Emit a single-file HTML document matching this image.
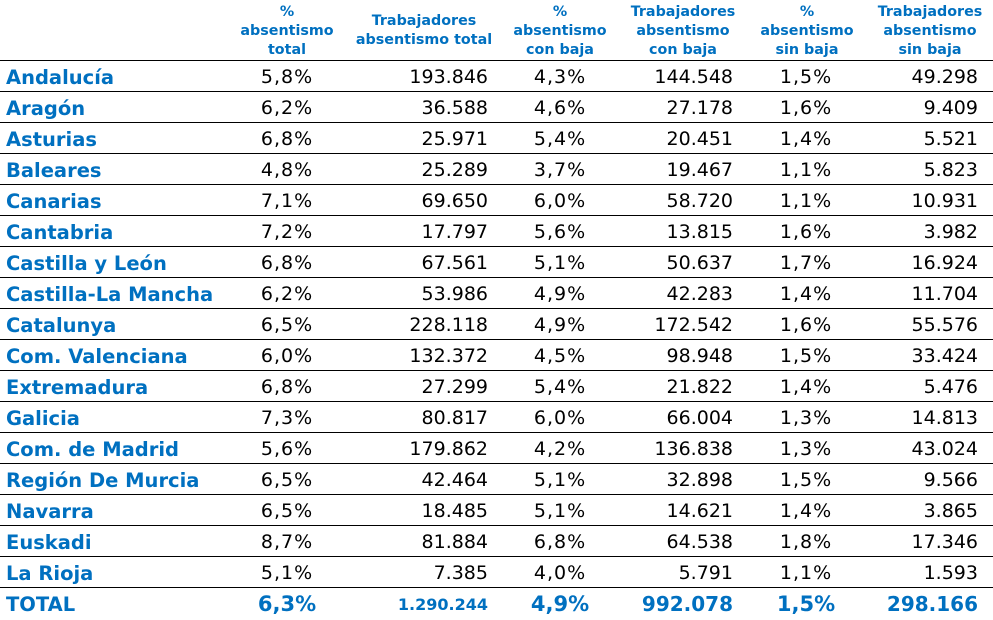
<!DOCTYPE html>
<html><head><meta charset="utf-8">
<style>
html,body{margin:0;padding:0;background:#fff;}
body{width:993px;height:620px;position:relative;overflow:hidden;font-family:"DejaVu Sans","Liberation Sans",sans-serif;color:#000;}
.h{position:absolute;top:0;height:62px;display:flex;align-items:center;justify-content:center;text-align:center;font-weight:bold;font-size:14.3px;line-height:19px;color:#0070C0;white-space:nowrap;}
.r{position:absolute;left:0;width:993px;height:31px;border-top:1px solid #000;}
.r span{position:absolute;top:1px;line-height:31px;font-size:19px;white-space:nowrap;}
.r .n{left:6px;font-weight:bold;color:#0070C0;font-size:19.5px;}
.r .c1{left:227px;width:120px;text-align:center;letter-spacing:1px;}
.r .c2{right:505px;text-align:right;}
.r .c3{left:500px;width:120px;text-align:center;letter-spacing:1px;}
.r .c4{right:260px;text-align:right;}
.r .c5{left:746px;width:120px;text-align:center;letter-spacing:1px;}
.r .c6{right:15px;text-align:right;}
.t span{color:#0070C0;font-weight:bold;}
.t .p{font-size:21px;letter-spacing:0;}
.t .v{font-size:20px;}
.t .s{font-size:16px;}
</style></head><body>
<div class="h" style="left:222px;width:130px;">%<br>absentismo<br>total</div>
<div class="h" style="left:352px;width:144px;">Trabajadores<br>absentismo total</div>
<div class="h" style="left:495px;width:130px;">%<br>absentismo<br>con baja</div>
<div class="h" style="left:618px;width:130px;">Trabajadores<br>absentismo<br>con baja</div>
<div class="h" style="left:742px;width:130px;">%<br>absentismo<br>sin baja</div>
<div class="h" style="left:865px;width:130px;">Trabajadores<br>absentismo<br>sin baja</div>

<div class="r" style="top:60px"><span class="n">Andalucía</span><span class="c1">5,8%</span><span class="c2">193.846</span><span class="c3">4,3%</span><span class="c4">144.548</span><span class="c5">1,5%</span><span class="c6">49.298</span></div>
<div class="r" style="top:91px"><span class="n">Aragón</span><span class="c1">6,2%</span><span class="c2">36.588</span><span class="c3">4,6%</span><span class="c4">27.178</span><span class="c5">1,6%</span><span class="c6">9.409</span></div>
<div class="r" style="top:122px"><span class="n">Asturias</span><span class="c1">6,8%</span><span class="c2">25.971</span><span class="c3">5,4%</span><span class="c4">20.451</span><span class="c5">1,4%</span><span class="c6">5.521</span></div>
<div class="r" style="top:153px"><span class="n">Baleares</span><span class="c1">4,8%</span><span class="c2">25.289</span><span class="c3">3,7%</span><span class="c4">19.467</span><span class="c5">1,1%</span><span class="c6">5.823</span></div>
<div class="r" style="top:184px"><span class="n">Canarias</span><span class="c1">7,1%</span><span class="c2">69.650</span><span class="c3">6,0%</span><span class="c4">58.720</span><span class="c5">1,1%</span><span class="c6">10.931</span></div>
<div class="r" style="top:215px"><span class="n">Cantabria</span><span class="c1">7,2%</span><span class="c2">17.797</span><span class="c3">5,6%</span><span class="c4">13.815</span><span class="c5">1,6%</span><span class="c6">3.982</span></div>
<div class="r" style="top:246px"><span class="n">Castilla y León</span><span class="c1">6,8%</span><span class="c2">67.561</span><span class="c3">5,1%</span><span class="c4">50.637</span><span class="c5">1,7%</span><span class="c6">16.924</span></div>
<div class="r" style="top:277px"><span class="n">Castilla-La Mancha</span><span class="c1">6,2%</span><span class="c2">53.986</span><span class="c3">4,9%</span><span class="c4">42.283</span><span class="c5">1,4%</span><span class="c6">11.704</span></div>
<div class="r" style="top:308px"><span class="n">Catalunya</span><span class="c1">6,5%</span><span class="c2">228.118</span><span class="c3">4,9%</span><span class="c4">172.542</span><span class="c5">1,6%</span><span class="c6">55.576</span></div>
<div class="r" style="top:339px"><span class="n">Com. Valenciana</span><span class="c1">6,0%</span><span class="c2">132.372</span><span class="c3">4,5%</span><span class="c4">98.948</span><span class="c5">1,5%</span><span class="c6">33.424</span></div>
<div class="r" style="top:370px"><span class="n">Extremadura</span><span class="c1">6,8%</span><span class="c2">27.299</span><span class="c3">5,4%</span><span class="c4">21.822</span><span class="c5">1,4%</span><span class="c6">5.476</span></div>
<div class="r" style="top:401px"><span class="n">Galicia</span><span class="c1">7,3%</span><span class="c2">80.817</span><span class="c3">6,0%</span><span class="c4">66.004</span><span class="c5">1,3%</span><span class="c6">14.813</span></div>
<div class="r" style="top:432px"><span class="n">Com. de Madrid</span><span class="c1">5,6%</span><span class="c2">179.862</span><span class="c3">4,2%</span><span class="c4">136.838</span><span class="c5">1,3%</span><span class="c6">43.024</span></div>
<div class="r" style="top:463px"><span class="n">Región De Murcia</span><span class="c1">6,5%</span><span class="c2">42.464</span><span class="c3">5,1%</span><span class="c4">32.898</span><span class="c5">1,5%</span><span class="c6">9.566</span></div>
<div class="r" style="top:494px"><span class="n">Navarra</span><span class="c1">6,5%</span><span class="c2">18.485</span><span class="c3">5,1%</span><span class="c4">14.621</span><span class="c5">1,4%</span><span class="c6">3.865</span></div>
<div class="r" style="top:525px"><span class="n">Euskadi</span><span class="c1">8,7%</span><span class="c2">81.884</span><span class="c3">6,8%</span><span class="c4">64.538</span><span class="c5">1,8%</span><span class="c6">17.346</span></div>
<div class="r" style="top:556px"><span class="n">La Rioja</span><span class="c1">5,1%</span><span class="c2">7.385</span><span class="c3">4,0%</span><span class="c4">5.791</span><span class="c5">1,1%</span><span class="c6">1.593</span></div>
<div class="r t" style="top:587px"><span class="n">TOTAL</span><span class="c1 p">6,3%</span><span class="c2 s">1.290.244</span><span class="c3 p">4,9%</span><span class="c4 v">992.078</span><span class="c5 p">1,5%</span><span class="c6 v">298.166</span></div>
</body></html>
